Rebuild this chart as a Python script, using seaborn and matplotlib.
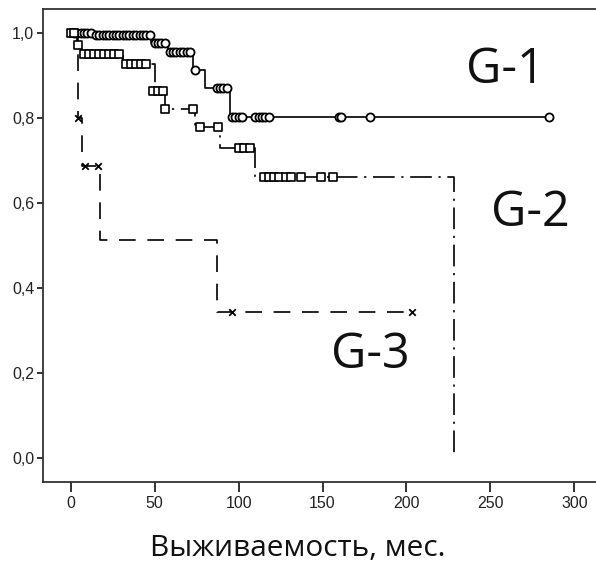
import matplotlib
matplotlib.use("Agg")
import matplotlib.pyplot as plt
import seaborn as sns
import pandas as pd

# --- data -------------------------------------------------------------
g1_time = [0, 14, 48, 58, 73, 80, 94.6, 285]
g1_surv = [1.0, 0.995, 0.975, 0.954, 0.912, 0.869, 0.802, 0.802]
g1_cens_time = [2, 4, 6, 8, 10, 12, 15, 17, 19, 21, 23, 25, 27, 29, 31, 33,
                35, 37, 39, 41, 43, 45, 47,
                50, 52, 54, 56, 59, 61, 63, 65, 67, 69, 71, 74, 87, 89, 91, 93,
                96, 98, 100, 102, 110, 112, 114, 116, 118, 160, 161, 178, 285]
g1_cens_surv = [1.0, 1.0, 1.0, 1.0, 1.0, 1.0,
                0.995, 0.995, 0.995, 0.995, 0.995, 0.995, 0.995, 0.995, 0.995,
                0.995, 0.995, 0.995, 0.995, 0.995, 0.995, 0.995, 0.995,
                0.975, 0.975, 0.975, 0.975,
                0.954, 0.954, 0.954, 0.954, 0.954, 0.954, 0.954,
                0.912, 0.869, 0.869, 0.869, 0.869,
                0.802, 0.802, 0.802, 0.802, 0.802, 0.802, 0.802, 0.802, 0.802,
                0.802, 0.802, 0.802, 0.802]

g2_time = [0, 3.5, 6, 31, 50.5, 56, 74, 89, 110, 228.6]
g2_surv = [1.0, 0.971, 0.951, 0.926, 0.862, 0.82, 0.779, 0.728, 0.662, 0.0]
g2_cens_time = [0, 2, 4.5, 8, 11, 14, 17, 20, 23, 26, 29, 33, 36, 39, 42, 45,
                49, 52, 55, 56, 73, 77, 88, 100, 103, 107,
                115, 118, 121, 124, 128, 131, 137, 149, 156]
g2_cens_surv = [1.0, 1.0, 0.971, 0.951, 0.951, 0.951, 0.951, 0.951, 0.951, 0.951,
                0.951, 0.926, 0.926, 0.926, 0.926, 0.926,
                0.862, 0.862, 0.862, 0.82, 0.82, 0.779, 0.779, 0.728, 0.728, 0.728,
                0.662, 0.662, 0.662, 0.662, 0.662, 0.662, 0.662, 0.662, 0.662]

g3_time = [0, 4.5, 7, 17.3, 87, 203]
g3_surv = [1.0, 0.80, 0.686, 0.514, 0.343, 0.343]
g3_cens_time = [4.3, 8.3, 16, 96, 203]
g3_cens_surv = [0.80, 0.686, 0.686, 0.343, 0.343]

group_labels = ["G-1", "G-2", "G-3"]
label_pos_x = [258.7, 273.6, 178.3]
label_pos_y = [0.912, 0.576, 0.243]

x_ticks = [0, 50, 100, 150, 200, 250, 300]
y_ticks = [0.0, 0.2, 0.4, 0.6, 0.8, 1.0]
y_tick_labels = ["0,0", "0,2", "0,4", "0,6", "0,8", "1,0"]
x_label = "Выживаемость, мес."

# --- plot ---------------------------------------------------------------
sns.set_style("white")
plt.rcParams["font.family"] = ["Liberation Sans", "DejaVu Sans"]

fig = plt.figure(figsize=(5.96, 5.65), dpi=100)
ax = fig.add_axes([0.0716, 0.1474, 0.9284, 0.8358])

lw = 1.2
sns.lineplot(x=g1_time, y=g1_surv, ax=ax, color="black", lw=lw,
             drawstyle="steps-post", sort=False, estimator=None)
sns.lineplot(x=g2_time, y=g2_surv, ax=ax, color="black", lw=lw,
             drawstyle="steps-post", sort=False, estimator=None)
ax.lines[-1].set_linestyle((0, (13, 4, 1.3, 4)))
sns.lineplot(x=g3_time, y=g3_surv, ax=ax, color="black", lw=lw,
             drawstyle="steps-post", sort=False, estimator=None)
ax.lines[-1].set_linestyle((0, (10, 7)))

sns.scatterplot(x=g1_cens_time, y=g1_cens_surv, ax=ax, marker="o", s=34,
                facecolor="white", edgecolor="black", linewidth=1.3, zorder=3)
sns.scatterplot(x=g2_cens_time, y=g2_cens_surv, ax=ax, marker="s", s=32,
                facecolor="white", edgecolor="black", linewidth=1.2, zorder=3)
sns.scatterplot(x=g3_cens_time, y=g3_cens_surv, ax=ax, marker="x", s=22,
                color="black", linewidth=1.3, zorder=3)

ax.set_xlim(-16.7, 312.9)
ax.set_ylim(-0.055, 1.0545)
ax.set_xticks(x_ticks)
ax.set_xticklabels([str(t) for t in x_ticks])
ax.set_yticks(y_ticks)
ax.set_yticklabels(y_tick_labels)

ax.tick_params(axis="x", direction="out", length=7, width=1.3, pad=3,
               labelsize=11.5, colors="#222222", bottom=True)
ax.tick_params(axis="y", direction="out", length=4.5, width=1.3, pad=1.5,
               labelsize=11.5, colors="#222222", left=True)
for side in ["left", "bottom", "top"]:
    ax.spines[side].set_color("#333333")
    ax.spines[side].set_linewidth(1.3)
ax.spines["right"].set_visible(False)

for lab, lx, ly in zip(group_labels, label_pos_x, label_pos_y):
    ax.text(lx, ly, lab, ha="center", va="center", fontsize=35,
            family=["Open Sans", "DejaVu Sans"], color="#111111")

fig.text(0.5, 1 - 548 / 565, x_label, ha="center", va="center",
         fontsize=21.5, family=["Open Sans", "DejaVu Sans"], color="#111111")

fig.savefig("out.png", dpi=100)
